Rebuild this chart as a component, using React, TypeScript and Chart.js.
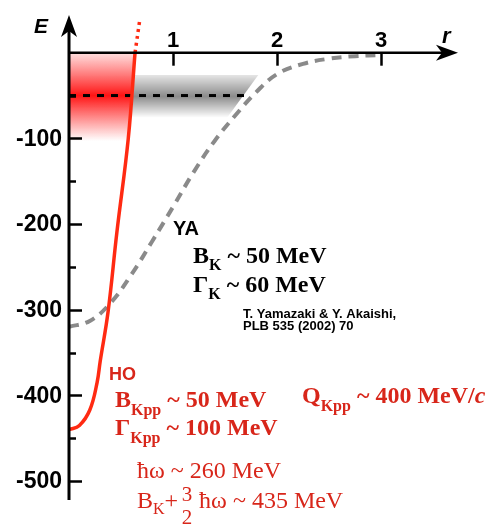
import React, { useEffect, useRef } from "react";
import { Chart, registerables } from "chart.js";
Chart.register(...registerables);

// ---- data ----
const hoR = [0, 0.1, 0.2, 0.27, 0.3, 0.375, 0.46, 0.57, 0.635];
const hoE = [-440, -435, -417, -385, -360, -303, -210, -100, 0];
const hoExtR = [0.635, 0.68];
const hoExtE = [0, 38];
const yaR = [0, 0.2, 0.4, 0.6, 0.8, 1.0, 1.2, 1.4, 1.6, 1.8, 2.0, 2.25, 2.5, 2.75, 2.95];
const yaE = [-320, -313, -292, -259, -220, -180, -139, -103, -73, -46, -25, -13, -7, -4, -3];
const levelR = [0, 1.72];
const levelE = [-50, -50];
const xTicks = [1, 2, 3];
const yTicks = [-100, -200, -300, -400, -500];
const yMinorTicks = [-50, -150, -250, -350, -450];
// red width box (right edge follows HO curve)
const redBoxR = [0.635, 0.6, 0.565];
const redBoxE = [0, -50, -103];
// gray band around the YA level
const bandLeftR = [0.63, 0.6];
const bandRightR = [1.82, 1.52];
const bandE = [-26, -76];

const X_MIN = 0, X_MAX = 3.74, Y_MIN = -522, Y_MAX = 44;

const RED_LINE = "#ff2a12";
const RED_TEXT = "#d8261a";
const SANS = "'Liberation Sans', Arial, sans-serif";
const SERIF = "'Liberation Serif', 'Times New Roman', serif";

type Run = { t: string; f: string; dy?: number; dx?: number };
function drawRuns(ctx: CanvasRenderingContext2D, x: number, y: number, list: Run[], color: string) {
  ctx.fillStyle = color;
  ctx.textAlign = "left";
  ctx.textBaseline = "alphabetic";
  let cx = x;
  for (const r of list) {
    ctx.font = r.f;
    cx += r.dx || 0;
    ctx.fillText(r.t, cx, y + (r.dy || 0));
    cx += ctx.measureText(r.t).width;
  }
  return cx;
}

const pts = (xs: number[], ys: number[]) => xs.map((v, i) => ({ x: v, y: ys[i] }));

const overlay = {
  id: "overlay",
  beforeDatasetsDraw(chart: any) {
    const { ctx } = chart;
    const x = chart.scales.x, y = chart.scales.y;
    ctx.save();
    // red box
    const yT = y.getPixelForValue(redBoxE[0]);
    const yM = y.getPixelForValue(redBoxE[1]);
    const yB = y.getPixelForValue(redBoxE[2]);
    const g = ctx.createLinearGradient(0, yT, 0, yB);
    g.addColorStop(0, "rgba(255,40,40,0.15)");
    g.addColorStop((yM - yT) / (yB - yT), "rgba(255,20,20,1)");
    g.addColorStop(1, "rgba(255,40,40,0)");
    ctx.fillStyle = g;
    ctx.beginPath();
    ctx.moveTo(x.getPixelForValue(0), yT);
    for (let i = 0; i < redBoxR.length; i++) ctx.lineTo(x.getPixelForValue(redBoxR[i]), y.getPixelForValue(redBoxE[i]));
    ctx.lineTo(x.getPixelForValue(0), yB);
    ctx.closePath();
    ctx.fill();
    // gray band
    const bT = y.getPixelForValue(bandE[0]);
    const bB = y.getPixelForValue(bandE[1]);
    const g2 = ctx.createLinearGradient(0, bT, 0, bB);
    g2.addColorStop(0, "rgba(0,0,0,0.1)");
    g2.addColorStop(0.5, "rgba(0,0,0,0.45)");
    g2.addColorStop(1, "rgba(0,0,0,0)");
    ctx.fillStyle = g2;
    ctx.beginPath();
    ctx.moveTo(x.getPixelForValue(bandLeftR[0]), bT);
    ctx.lineTo(x.getPixelForValue(bandRightR[0]), bT);
    ctx.lineTo(x.getPixelForValue(bandRightR[1]), bB);
    ctx.lineTo(x.getPixelForValue(bandLeftR[1]), bB);
    ctx.closePath();
    ctx.fill();
    ctx.restore();
  },
  afterDatasetsDraw(chart: any) {
    const { ctx } = chart;
    const x = chart.scales.x, y = chart.scales.y;
    const x0 = x.getPixelForValue(0);
    const y0 = y.getPixelForValue(0);
    const yTip = y.getPixelForValue(Y_MAX);
    const xTip = x.getPixelForValue(X_MAX);
    ctx.save();
    ctx.strokeStyle = "#000";
    ctx.fillStyle = "#000";
    // y axis
    ctx.lineWidth = 3;
    ctx.beginPath();
    ctx.moveTo(x0, y.getPixelForValue(Y_MIN));
    ctx.lineTo(x0, yTip + 12);
    ctx.stroke();
    ctx.beginPath();
    ctx.moveTo(x0, yTip);
    ctx.lineTo(x0 - 8, yTip + 22);
    ctx.lineTo(x0, yTip + 16);
    ctx.lineTo(x0 + 8, yTip + 22);
    ctx.closePath();
    ctx.fill();
    // x axis
    ctx.lineWidth = 2.5;
    ctx.beginPath();
    ctx.moveTo(x0, y0);
    ctx.lineTo(xTip - 12, y0);
    ctx.stroke();
    ctx.beginPath();
    ctx.moveTo(xTip, y0);
    ctx.lineTo(xTip - 22, y0 - 8);
    ctx.lineTo(xTip - 16, y0);
    ctx.lineTo(xTip - 22, y0 + 8);
    ctx.closePath();
    ctx.fill();
    // ticks
    ctx.lineWidth = 2.5;
    for (const v of yTicks) {
      const py = Math.round(y.getPixelForValue(v)) + 0.5;
      ctx.beginPath(); ctx.moveTo(x0, py); ctx.lineTo(x0 + 13, py); ctx.stroke();
    }
    for (const v of yMinorTicks) {
      const py = Math.round(y.getPixelForValue(v)) + 0.5;
      ctx.beginPath(); ctx.moveTo(x0, py); ctx.lineTo(x0 + 7, py); ctx.stroke();
    }
    for (const v of xTicks) {
      const px = Math.round(x.getPixelForValue(v)) + 0.5;
      ctx.beginPath(); ctx.moveTo(px, y0); ctx.lineTo(px, y0 + 13); ctx.stroke();
    }
    // tick labels
    ctx.font = `bold 23px ${SANS}`;
    ctx.textAlign = "right";
    ctx.textBaseline = "middle";
    for (const v of yTicks) ctx.fillText(String(v), x0 - 7, y.getPixelForValue(v) + 1);
    ctx.textAlign = "center";
    ctx.textBaseline = "alphabetic";
    ctx.font = `bold 22px ${SANS}`;
    for (const v of xTicks) ctx.fillText(String(v), x.getPixelForValue(v), y0 - 6);
    // axis titles
    ctx.font = `italic bold 21px ${SANS}`;
    ctx.textAlign = "left";
    ctx.fillText("E", 34, 33);
    ctx.font = `italic bold 22px ${SANS}`;
    ctx.fillText("r", 442, 43);

    // annotations
    const SB = `bold 24px ${SERIF}`;
    const SBs = `bold 16px ${SERIF}`;
    const SN = `24px ${SERIF}`;
    const SNs = `16px ${SERIF}`;
    ctx.font = `bold 20px ${SANS}`;
    ctx.fillText("YA", 173, 235);
    drawRuns(ctx, 193, 263, [{ t: "B", f: SB }, { t: "K", f: SBs, dy: 7 }, { t: " ~ 50 MeV", f: SB }], "#000");
    drawRuns(ctx, 193, 292, [{ t: "Γ", f: SB }, { t: "K", f: SBs, dy: 7 }, { t: " ~ 60 MeV", f: SB }], "#000");
    ctx.font = `bold 13px ${SANS}`;
    ctx.fillStyle = "#000";
    ctx.fillText("T. Yamazaki & Y. Akaishi,", 243, 318);
    ctx.fillText("PLB 535 (2002) 70", 243, 330);

    ctx.fillStyle = RED_TEXT;
    ctx.font = `bold 18px ${SANS}`;
    ctx.fillText("HO", 109, 380);
    drawRuns(ctx, 115, 407, [{ t: "B", f: SB }, { t: "Kpp", f: SBs, dy: 8 }, { t: " ~ 50 MeV", f: SB }], RED_TEXT);
    drawRuns(ctx, 115, 435, [{ t: "Γ", f: SB }, { t: "Kpp", f: SBs, dy: 8 }, { t: " ~ 100 MeV", f: SB }], RED_TEXT);
    drawRuns(ctx, 302, 403, [{ t: "Q", f: SB }, { t: "Kpp", f: SBs, dy: 8 }, { t: " ~ 400 MeV/", f: SB }, { t: "c", f: `italic bold 24px ${SERIF}` }], RED_TEXT);
    drawRuns(ctx, 137, 478, [{ t: "ħω ~ 260 MeV", f: SN }], RED_TEXT);
    const cx = drawRuns(ctx, 137, 508, [{ t: "B", f: SN }, { t: "K", f: SNs, dy: 6 }, { t: "+", f: SN }], RED_TEXT);
    ctx.font = `21px ${SERIF}`;
    ctx.textAlign = "center";
    ctx.fillText("3", cx + 9, 501);
    ctx.fillText("2", cx + 9, 524);
    drawRuns(ctx, cx + 15, 508, [{ t: " ħω ~ 435 MeV", f: SN }], RED_TEXT);
    ctx.restore();
  },
};

export default function App() {
  const ref = useRef<HTMLCanvasElement | null>(null);
  useEffect(() => {
    document.body.style.margin = "0";
    const canvas = ref.current!;
    const chart = new Chart(canvas, {
      type: "line",
      data: {
        datasets: [
          { data: pts(hoR, hoE), borderColor: RED_LINE, borderWidth: 3.5, pointRadius: 0, tension: 0.4 },
          { data: pts(hoExtR, hoExtE), borderColor: RED_LINE, borderWidth: 3.5, pointRadius: 0, borderDash: [3, 4] },
          { data: pts(levelR, levelE), borderColor: "#000", borderWidth: 3, pointRadius: 0, borderDash: [7, 7] },
          { data: pts(yaR, yaE), borderColor: "#8a8a8a", borderWidth: 4, pointRadius: 0, borderDash: [10, 7], tension: 0.4 },
        ] as any,
      },
      options: {
        responsive: false,
        animation: false,
        events: [],
        layout: { padding: { left: 69, right: 35, top: 15, bottom: 24 } },
        plugins: { legend: { display: false }, tooltip: { enabled: false } },
        scales: {
          x: { type: "linear", min: X_MIN, max: X_MAX, display: false },
          y: { type: "linear", min: Y_MIN, max: Y_MAX, display: false },
        },
      },
      plugins: [overlay as any],
    });
    return () => chart.destroy();
  }, []);
  return <canvas ref={ref} width={493} height={524} style={{ display: "block" }} />;
}
